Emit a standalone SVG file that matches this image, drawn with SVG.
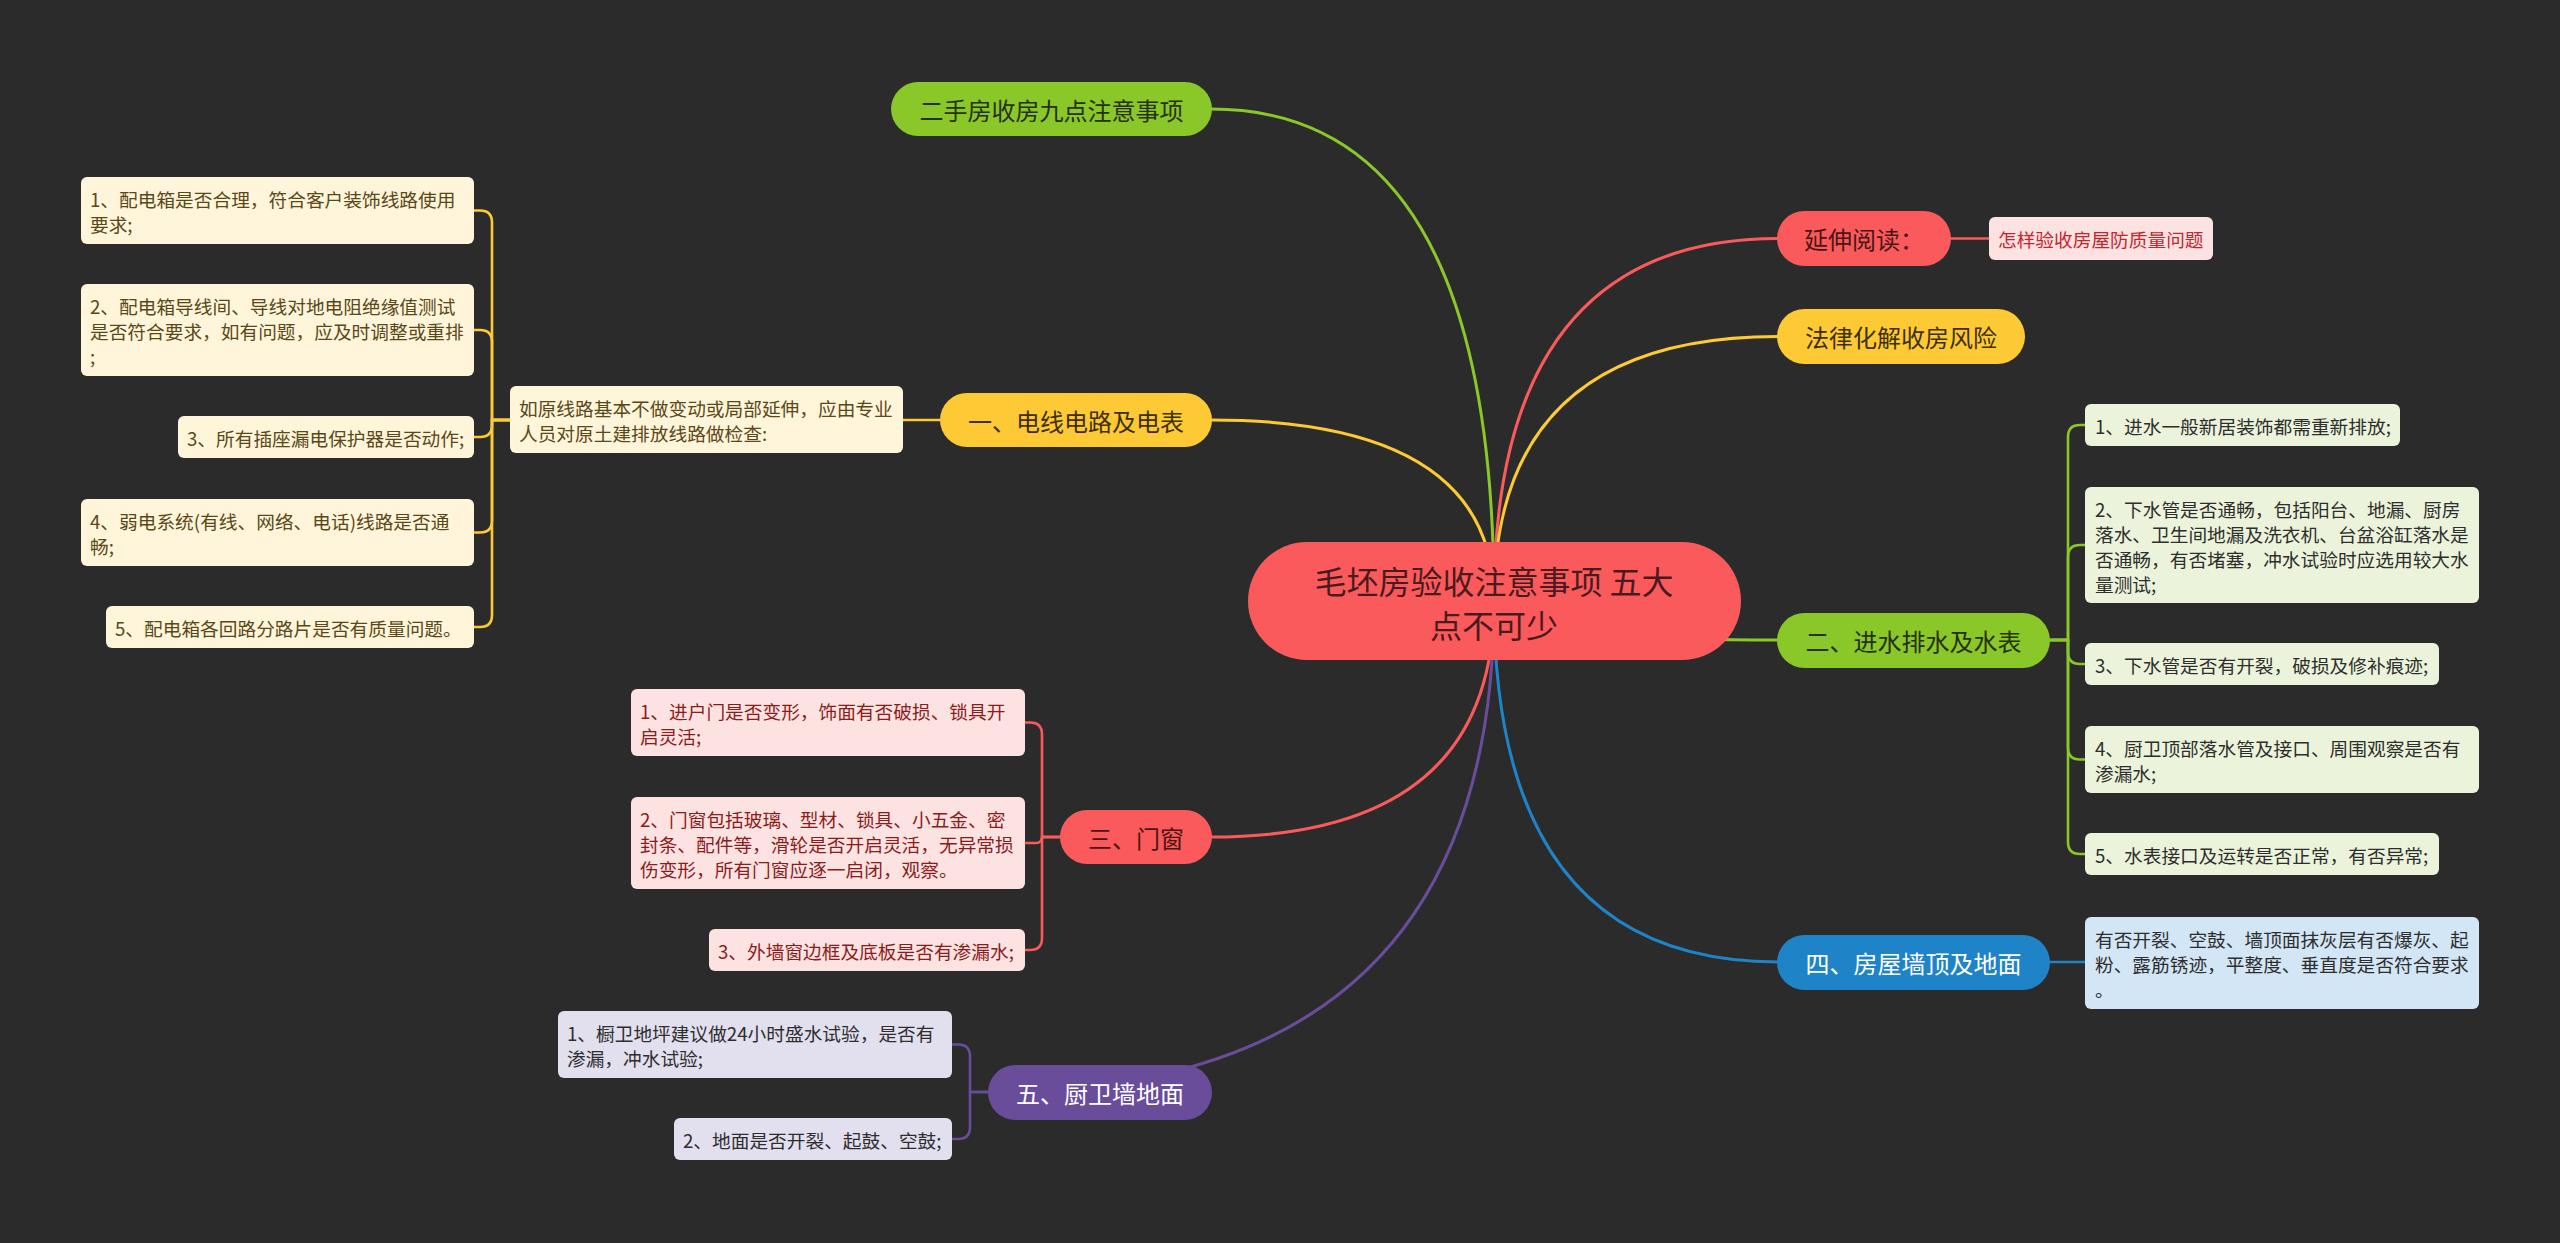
<svg xmlns="http://www.w3.org/2000/svg" width="2560" height="1243" viewBox="0 0 2560 1243">
<style>
text{font-family:"Noto Sans CJK SC","Microsoft YaHei",sans-serif;dominant-baseline:central}
.lf{font-size:18.7px}
.br{font-size:24px;text-anchor:middle}
.ct{font-size:32px;text-anchor:middle;fill:#4a1a1e}
.c{fill:none;stroke-width:3;stroke-linecap:round}
.s{fill:none;stroke-width:2.6;stroke-linecap:round;stroke-linejoin:round}
.g{stroke:#8ac728}.y{stroke:#fdca35}.r{stroke:#fa5a5b}.b{stroke:#1e83c7}.p{stroke:#6a4d9a}
.ly{fill:#fef5da}.lyt{fill:#5a4818}
.lp{fill:#fde2e2}.lpt{fill:#8b1c1c}
.lv{fill:#e2dfee}.lg{fill:#ebf4da}.lb{fill:#d3e6f6}.dk{fill:#2e2e2e}
</style>
<rect width="2560" height="1243" fill="#2b2b2b"/>
<g id="connectors">
<path class="c g" d="M1211 109 Q1494 109 1494 601"/>
<path class="c y" d="M1211 420 Q1494 420 1494 601"/>
<path class="c r" d="M1778 238.5 Q1494 238.5 1494 601"/>
<path class="c y" d="M1778 336.5 Q1494 336.5 1494 601"/>
<path class="c g" d="M1778 640 Q1494 640 1494 601"/>
<path class="c b" d="M1778 962 Q1494 962 1494 601"/>
<path class="c r" d="M1211 837 Q1494 837 1494 601"/>
<path class="c p" d="M988 1092 Q1494 1092 1494 601"/>
<path class="s y" d="M940 420 H903"/>
<path class="s y" d="M510 420 H492 V222.5 Q492 210.5 480 210.5 H474"/>
<path class="s y" d="M510 420 H492 V342 Q492 330 480 330 H474"/>
<path class="s y" d="M510 420 H492 V425 Q492 437 480 437 H474"/>
<path class="s y" d="M510 420 H492 V520.5 Q492 532.5 480 532.5 H474"/>
<path class="s y" d="M510 420 H492 V615 Q492 627 480 627 H474"/>
<path class="s r" d="M1060 837 H1042 V734.5 Q1042 722.5 1030 722.5 H1025"/>
<path class="s r" d="M1060 837 H1042 Q1042 843 1036 843 H1025"/>
<path class="s r" d="M1060 837 H1042 V938 Q1042 950 1030 950 H1025"/>
<path class="s p" d="M988 1092 H970 V1056.5 Q970 1044.5 958 1044.5 H952"/>
<path class="s p" d="M988 1092 H970 V1127 Q970 1139 958 1139 H952"/>
<path class="s g" d="M2050 640 H2068 V437 Q2068 425 2080 425 H2085"/>
<path class="s g" d="M2050 640 H2068 V557 Q2068 545 2080 545 H2085"/>
<path class="s g" d="M2050 640 H2068 V652 Q2068 664 2080 664 H2085"/>
<path class="s g" d="M2050 640 H2068 V747.5 Q2068 759.5 2080 759.5 H2085"/>
<path class="s g" d="M2050 640 H2068 V842 Q2068 854 2080 854 H2085"/>
<path class="s b" d="M2050 962 H2085"/>
<path class="s r" d="M1951 238.5 H1989"/>
</g>
<g id="center">
<rect x="1248" y="542" width="493" height="118" rx="59" fill="#fa5a5b"/>
<text class="ct" x="1494" y="580">毛坯房验收注意事项 五大</text>
<text class="ct" x="1494" y="624">点不可少</text>
</g>
<g id="n-ershou">
<rect x="891" y="82" width="321" height="54" rx="27" fill="#8ac728"/>
<text class="br" x="1051.5" y="109" fill="#263012">二手房收房九点注意事项</text>
</g>
<g id="n-yi">
<rect x="940" y="393" width="272" height="54" rx="27" fill="#fdca35"/>
<text class="br" x="1076" y="420" fill="#3e2f09">一、电线电路及电表</text>
</g>
<g id="n-yanshen">
<rect x="1777" y="211" width="174" height="55" rx="27.5" fill="#fa5a5b"/>
<text class="br" x="1864" y="238.5" fill="#4a1515">延伸阅读：</text>
</g>
<g id="n-falv">
<rect x="1777" y="309" width="248" height="55" rx="27.5" fill="#fdca35"/>
<text class="br" x="1901" y="336.5" fill="#3e2f09">法律化解收房风险</text>
</g>
<g id="n-er">
<rect x="1777" y="613" width="273" height="55" rx="27.5" fill="#8ac728"/>
<text class="br" x="1913.5" y="640.5" fill="#263012">二、进水排水及水表</text>
</g>
<g id="n-si">
<rect x="1777" y="935" width="273" height="55" rx="27.5" fill="#1e83c7"/>
<text class="br" x="1913.5" y="962.5" fill="#ffffff">四、房屋墙顶及地面</text>
</g>
<g id="n-san">
<rect x="1060" y="810" width="152" height="54" rx="27" fill="#fa5a5b"/>
<text class="br" x="1136" y="837" fill="#4a1515">三、门窗</text>
</g>
<g id="n-wu">
<rect x="988" y="1065" width="224" height="55" rx="27.5" fill="#6a4d9a"/>
<text class="br" x="1100" y="1092.5" fill="#ffffff">五、厨卫墙地面</text>
</g>
<g id="l-yi-mid">
<rect class="ly" x="510" y="386" width="393" height="67" rx="6"/>
<text class="lf lyt" x="519" y="407">如原线路基本不做变动或局部延伸，应由专业</text>
<text class="lf lyt" x="519" y="432">人员对原土建排放线路做检查:</text>
</g>
<g id="l-yi-1">
<rect class="ly" x="81" y="177" width="393" height="67" rx="6"/>
<text class="lf lyt" x="90" y="198">1、配电箱是否合理，符合客户装饰线路使用</text>
<text class="lf lyt" x="90" y="223">要求;</text>
</g>
<g id="l-yi-2">
<rect class="ly" x="81" y="284" width="393" height="92" rx="6"/>
<text class="lf lyt" x="90" y="305">2、配电箱导线间、导线对地电阻绝缘值测试</text>
<text class="lf lyt" x="90" y="330">是否符合要求，如有问题，应及时调整或重排</text>
<text class="lf lyt" x="90" y="355">;</text>
</g>
<g id="l-yi-3">
<rect class="ly" x="178" y="416" width="296" height="42" rx="6"/>
<text class="lf lyt" x="187" y="437">3、所有插座漏电保护器是否动作;</text>
</g>
<g id="l-yi-4">
<rect class="ly" x="81" y="499" width="393" height="67" rx="6"/>
<text class="lf lyt" x="90" y="520">4、弱电系统(有线、网络、电话)线路是否通</text>
<text class="lf lyt" x="90" y="545">畅;</text>
</g>
<g id="l-yi-5">
<rect class="ly" x="106" y="606" width="368" height="42" rx="6"/>
<text class="lf lyt" x="115" y="627">5、配电箱各回路分路片是否有质量问题。</text>
</g>
<g id="l-san-1">
<rect class="lp" x="631" y="689" width="394" height="67" rx="6"/>
<text class="lf lpt" x="640" y="710">1、进户门是否变形，饰面有否破损、锁具开</text>
<text class="lf lpt" x="640" y="735">启灵活;</text>
</g>
<g id="l-san-2">
<rect class="lp" x="631" y="797" width="394" height="92" rx="6"/>
<text class="lf lpt" x="640" y="818">2、门窗包括玻璃、型材、锁具、小五金、密</text>
<text class="lf lpt" x="640" y="843">封条、配件等，滑轮是否开启灵活，无异常损</text>
<text class="lf lpt" x="640" y="868">伤变形，所有门窗应逐一启闭，观察。</text>
</g>
<g id="l-san-3">
<rect class="lp" x="709" y="929" width="316" height="42" rx="6"/>
<text class="lf lpt" x="718" y="950">3、外墙窗边框及底板是否有渗漏水;</text>
</g>
<g id="l-wu-1">
<rect class="lv" x="558" y="1011" width="394" height="67" rx="6"/>
<text class="lf dk" x="567" y="1032">1、橱卫地坪建议做24小时盛水试验，是否有</text>
<text class="lf dk" x="567" y="1057">渗漏，冲水试验;</text>
</g>
<g id="l-wu-2">
<rect class="lv" x="674" y="1118" width="278" height="42" rx="6"/>
<text class="lf dk" x="683" y="1139">2、地面是否开裂、起鼓、空鼓;</text>
</g>
<g id="l-yanshen">
<rect class="lp" x="1989" y="217" width="224" height="43" rx="6"/>
<text class="lf" x="1998" y="238.5" fill="#c4262e">怎样验收房屋防质量问题</text>
</g>
<g id="l-er-1">
<rect class="lg" x="2085" y="404" width="315" height="42" rx="6"/>
<text class="lf dk" x="2095" y="425">1、进水一般新居装饰都需重新排放;</text>
</g>
<g id="l-er-2">
<rect class="lg" x="2085" y="487" width="394" height="116" rx="6"/>
<text class="lf dk" x="2095" y="508">2、下水管是否通畅，包括阳台、地漏、厨房</text>
<text class="lf dk" x="2095" y="533">落水、卫生间地漏及洗衣机、台盆浴缸落水是</text>
<text class="lf dk" x="2095" y="558">否通畅，有否堵塞，冲水试验时应选用较大水</text>
<text class="lf dk" x="2095" y="583">量测试;</text>
</g>
<g id="l-er-3">
<rect class="lg" x="2085" y="643" width="354" height="42" rx="6"/>
<text class="lf dk" x="2095" y="664">3、下水管是否有开裂，破损及修补痕迹;</text>
</g>
<g id="l-er-4">
<rect class="lg" x="2085" y="726" width="394" height="67" rx="6"/>
<text class="lf dk" x="2095" y="747">4、厨卫顶部落水管及接口、周围观察是否有</text>
<text class="lf dk" x="2095" y="772">渗漏水;</text>
</g>
<g id="l-er-5">
<rect class="lg" x="2085" y="833" width="354" height="42" rx="6"/>
<text class="lf dk" x="2095" y="854">5、水表接口及运转是否正常，有否异常;</text>
</g>
<g id="l-si-1">
<rect class="lb" x="2085" y="917" width="394" height="92" rx="6"/>
<text class="lf dk" x="2095" y="938">有否开裂、空鼓、墙顶面抹灰层有否爆灰、起</text>
<text class="lf dk" x="2095" y="963">粉、露筋锈迹，平整度、垂直度是否符合要求</text>
<text class="lf dk" x="2095" y="988">。</text>
</g>
</svg>
